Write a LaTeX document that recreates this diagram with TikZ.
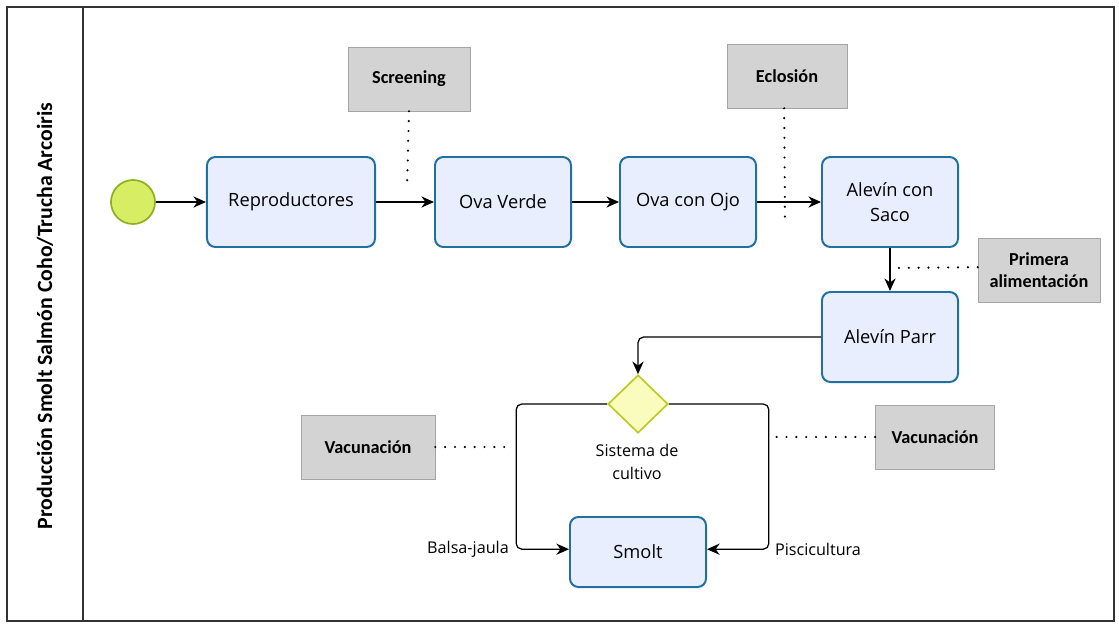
\documentclass[tikz,border=0pt]{standalone}
\usepackage{fontspec}
\setmainfont{Open Sans}
\newfontfamily\notefont{Carlito}
\usetikzlibrary{arrows.meta, shapes.geometric}

\definecolor{taskline}{RGB}{33,112,160}
\definecolor{taskfill}{RGB}{232,238,253}
\definecolor{startfill}{RGB}{215,238,100}
\definecolor{startline}{RGB}{140,175,30}
\definecolor{gwfill}{RGB}{250,252,190}
\definecolor{gwline}{RGB}{185,205,30}
\definecolor{notefill}{RGB}{211,211,211}
\definecolor{noteline}{RGB}{165,165,165}

\begin{document}
\begin{tikzpicture}[x=0.025cm, y=-0.025cm,
    flow/.style={-{Stealth[length=9pt, width=8pt]}, line width=0.9pt},
    assoc/.style={line width=1.7pt, dash pattern=on 0pt off 7pt, line cap=round},
    task/.style={rectangle, rounded corners=6pt, draw=taskline, fill=taskfill,
                 line width=1.4pt, align=center, minimum width=3.4cm,
                 minimum height=2.25cm, font=\fontsize{13}{18}\selectfont},
    note/.style={rectangle, draw=noteline, fill=notefill, align=center,
                 minimum width=3.05cm, minimum height=1.6cm, inner sep=2pt,
                 font=\notefont\bfseries\fontsize{13}{16}\selectfont},
    lbl/.style={font=\fontsize{11.5}{16}\selectfont, align=center}
]
\useasboundingbox (0,0) rectangle (1119,625);

% pool frame and lane header
\draw[line width=0.9pt, black!80] (7,7) rectangle (1114,621);
\draw[line width=0.9pt, black!80] (83,7) -- (83,621);
\node[rotate=90, font=\notefont\bfseries\fontsize{15.5}{18}\selectfont] (lane) at (45,316)
    {Producción Smolt Salmón Coho/Trucha Arcoiris};

% start event and tasks
\node[circle, draw=startline, fill=startfill, line width=1.2pt,
      minimum size=1.1cm, inner sep=0] (start) at (133,202) {};
\node[task, minimum width=4.2cm] (repro) at (291,202) {Reproductores};
\node[task] (verde) at (503,202) {Ova Verde};
\node[task] (ojo) at (688,202) {Ova con Ojo};
\node[task] (saco) at (890,202) {Alevín con\\Saco};
\node[task] (parr) at (890,337) {Alevín Parr};
\node[task, minimum height=1.75cm] (smolt) at (638,552) {Smolt};

% gateway
\node[diamond, draw=gwline, fill=gwfill, line width=1.2pt,
      minimum width=1.5cm, minimum height=1.45cm, inner sep=0] (gw) at (638,404) {};
\node[lbl] (gwtxt) at (637,462) {Sistema de\\cultivo};

% annotations
\node[note] (screen) at (409,79) {Screening};
\node[note, minimum width=3cm] (eclo) at (787,76) {Eclosión};
\node[note] (prim) at (1039,270) {Primera\\alimentación};
\node[note, minimum width=3.35cm] (vac1) at (368,447) {Vacunación};
\node[note, minimum width=2.98cm] (vac2) at (935,437) {Vacunación};

\coordinate (screenEnd) at (407,188);
\coordinate (ecloEnd) at (785,220);
\coordinate (primEnd) at (893,268);
\coordinate (vac1End) at (512,447);
\coordinate (vac2End) at (772,437);

% sequence flows
\draw[flow] (start) -- (repro);
\draw[flow] (repro) -- (verde);
\draw[flow] (verde) -- (ojo);
\draw[flow] (ojo) -- (saco);
\draw[flow] (saco) -- (parr);
\draw[flow, rounded corners=4pt] (parr.west) -| (gw.north);
\draw[flow, rounded corners=4pt] (gw.west) -- ++(-91,0) |- ([yshift=2pt]smolt.west);
\draw[flow, rounded corners=4pt] (gw.east) -- ++(100,0) |- ([yshift=2pt]smolt.east);
\node[lbl] (balsa) at (468,549) {Balsa-jaula};
\node[lbl] (pisci) at (818,549) {Piscicultura};

% associations
\draw[assoc] (screen.south) -- (screenEnd);
\draw[assoc] ([xshift=-2pt]eclo.south) -- (ecloEnd);
\draw[assoc] ([yshift=2pt]prim.west) -- (primEnd);
\draw[assoc] (vac1.east) -- (vac1End);
\draw[assoc] (vac2.west) -- (vac2End);
\end{tikzpicture}
\end{document}
